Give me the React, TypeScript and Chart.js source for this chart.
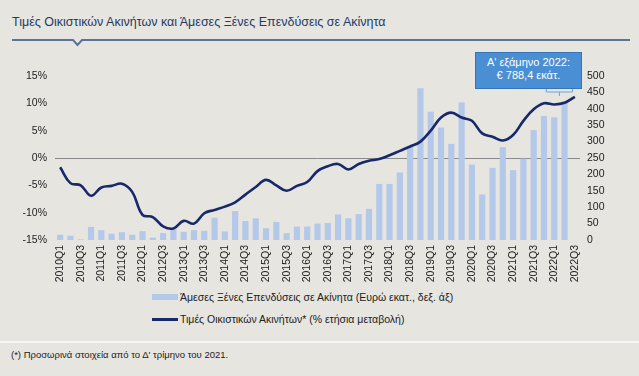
import React, { useEffect, useRef } from "react";
import { Chart, registerables } from "chart.js";

Chart.register(...registerables);

const categories = [
  "2010Q1", "2010Q2", "2010Q3", "2010Q4",
  "2011Q1", "2011Q2", "2011Q3", "2011Q4",
  "2012Q1", "2012Q2", "2012Q3", "2012Q4",
  "2013Q1", "2013Q2", "2013Q3", "2013Q4",
  "2014Q1", "2014Q2", "2014Q3", "2014Q4",
  "2015Q1", "2015Q2", "2015Q3", "2015Q4",
  "2016Q1", "2016Q2", "2016Q3", "2016Q4",
  "2017Q1", "2017Q2", "2017Q3", "2017Q4",
  "2018Q1", "2018Q2", "2018Q3", "2018Q4",
  "2019Q1", "2019Q2", "2019Q3", "2019Q4",
  "2020Q1", "2020Q2", "2020Q3", "2020Q4",
  "2021Q1", "2021Q2", "2021Q3", "2021Q4",
  "2022Q1", "2022Q2", "2022Q3",
];

// Άμεσες Ξένες Επενδύσεις σε Ακίνητα (Ευρώ εκατ.) – right axis
const fdiRealEstate: (number | null)[] = [
  16, 13, 2, 40, 30, 19, 24, 16, 27, 7,
  21, 35, 25, 30, 28, 68, 26, 88, 58, 66,
  36, 55, 21, 41, 41, 50, 52, 78, 66, 79,
  95, 171, 171, 206, 285, 463, 391, 343, 293, 419,
  230, 139, 220, 283, 213, 248, 335, 378, 374, 422,
  null,
];

// Τιμές Οικιστικών Ακινήτων (% ετήσια μεταβολή) – left axis
const housePriceChange = [
  -1.7, -4.6, -5.0, -6.9, -5.4, -5.1, -4.7, -6.2, -10.4, -10.8,
  -12.5, -12.9, -11.5, -12.0, -10.1, -9.5, -8.9, -8.1, -6.7, -5.3,
  -4.0, -5.0, -6.0, -5.1, -4.4, -2.4, -1.5, -1.1, -2.1, -1.1,
  -0.5, -0.2, 0.5, 1.3, 2.1, 3.0, 5.0, 7.4, 8.3, 7.4,
  6.8, 4.5, 3.9, 3.2, 4.2, 6.8, 8.9, 10.0, 9.8, 10.1,
  11.2,
];

const leftAxisRange = [-15, 15];
const rightAxisRange = [0, 500];
const bracketCategories = ["2022Q1", "2022Q2"];

const titleText = "Τιμές Οικιστικών Ακινήτων και Άμεσες Ξένες Επενδύσεις σε Ακίνητα";
const barLabel = "Άμεσες Ξένες Επενδύσεις σε Ακίνητα (Ευρώ εκατ., δεξ. άξ)";
const lineLabel = "Τιμές Οικιστικών Ακινήτων* (% ετήσια μεταβολή)";
const calloutLines = ["Α' εξάμηνο 2022:", "€ 788,4 εκάτ."];
const footnote = "(*) Προσωρινά στοιχεία από το Δ' τρίμηνο του 2021.";

const FONT = "'Liberation Sans', Arial, sans-serif";
const BG = "#e6e5e0";
const NAVY = "#17296b";
const BAR = "#b4c8ea";

const bracketPlugin = {
  id: "bracket",
  afterDatasetsDraw(chart: any) {
    const x = chart.scales.x;
    const i1 = categories.indexOf(bracketCategories[0]);
    const i2 = categories.indexOf(bracketCategories[1]);
    const x1 = x.getPixelForValue(i1) - 8;
    const x2 = x.getPixelForValue(i2) + 8;
    const xm = (x1 + x2) / 2;
    const ctx = chart.ctx;
    ctx.save();
    ctx.strokeStyle = "#6ea5dc";
    ctx.lineWidth = 1;
    ctx.beginPath();
    ctx.moveTo(x1, 36);
    ctx.lineTo(x1, 42);
    ctx.lineTo(x2, 42);
    ctx.lineTo(x2, 36);
    ctx.moveTo(xm, 42);
    ctx.lineTo(xm, 46);
    ctx.stroke();
    ctx.restore();
  },
};

export default function App() {
  const ref = useRef<HTMLCanvasElement | null>(null);

  useEffect(() => {
    if (!ref.current) return;
    const chart = new Chart(ref.current, {
      type: "bar",
      data: {
        labels: categories,
        datasets: [
          {
            type: "line",
            label: lineLabel,
            data: housePriceChange,
            yAxisID: "y",
            borderColor: NAVY,
            backgroundColor: NAVY,
            borderWidth: 2.6,
            pointRadius: 0,
            tension: 0.4,
            order: 0,
          } as any,
          {
            type: "bar",
            label: barLabel,
            data: fdiRealEstate,
            yAxisID: "y1",
            backgroundColor: BAR,
            barPercentage: 0.6,
            categoryPercentage: 1,
            order: 1,
          },
        ],
      },
      options: {
        animation: false,
        responsive: false,
        maintainAspectRatio: false,
        layout: { padding: { top: 26, bottom: 0, left: 0, right: 0 } },
        plugins: {
          legend: { display: false },
          tooltip: { enabled: false },
        },
        scales: {
          x: {
            offset: true,
            grid: { display: false, drawTicks: false },
            border: { display: false },
            ticks: {
              autoSkip: false,
              maxRotation: 90,
              minRotation: 90,
              padding: 5,
              color: "#222",
              font: { family: FONT, size: 10.5 },
              callback: (_v: any, i: number) => (i % 2 === 0 ? categories[i] : ""),
            },
            afterFit: (s: any) => {
              s.height = 50;
            },
          },
          y: {
            position: "left",
            min: leftAxisRange[0],
            max: leftAxisRange[1],
            grid: {
              drawTicks: false,
              color: (c: any) => (c.tick && c.tick.value === 0 ? "#8a8a8a" : "rgba(0,0,0,0)"),
              lineWidth: 1,
            },
            border: { display: false },
            ticks: {
              stepSize: 5,
              padding: 8,
              color: "#222",
              font: { family: FONT, size: 10.5 },
              callback: (v: any) => `${v}%`,
            },
            afterFit: (s: any) => {
              s.width = 55;
            },
          },
          y1: {
            position: "right",
            min: rightAxisRange[0],
            max: rightAxisRange[1],
            grid: { display: false, drawTicks: false },
            border: { display: false },
            ticks: {
              stepSize: 50,
              padding: 7,
              color: "#222",
              font: { family: FONT, size: 10.5 },
            },
            afterFit: (s: any) => {
              s.width = 59;
            },
          },
        },
      },
      plugins: [bracketPlugin],
    });
    return () => chart.destroy();
  }, []);

  return (
    <div
      style={{
        position: "fixed",
        left: 0,
        top: 0,
        width: 639,
        height: 376,
        background: BG,
        fontFamily: FONT,
        overflow: "hidden",
      }}
    >
      <div
        style={{
          position: "absolute",
          left: 12,
          top: 14,
          fontSize: 12.5,
          color: "#1f3a66",
          whiteSpace: "nowrap",
          lineHeight: "16px",
        }}
      >
        {titleText}
      </div>
      <svg
        width={639}
        height={12}
        style={{ position: "absolute", left: 0, top: 36 }}
      >
        <polyline
          points="12,4 73,4 77.5,9 82,4 630,4"
          fill="none"
          stroke="#5a7397"
          strokeWidth={2}
        />
      </svg>
      <canvas
        ref={ref}
        width={639}
        height={240}
        style={{ position: "absolute", left: 0, top: 50, width: 639, height: 240 }}
      />
      <div
        style={{
          position: "absolute",
          left: 475,
          top: 52,
          width: 105,
          height: 32,
          background: "#4a8fd4",
          border: "1px solid #3574b8",
          color: "#fff",
          fontSize: 11,
          lineHeight: "13px",
          textAlign: "center",
          paddingTop: 3,
          boxSizing: "content-box",
        }}
      >
        <div>{calloutLines[0]}</div>
        <div>{calloutLines[1]}</div>
      </div>
      <div style={{ position: "absolute", left: 152, top: 294, width: 26, height: 6, background: BAR }} />
      <div
        style={{
          position: "absolute",
          left: 180,
          top: 290,
          fontSize: 10.5,
          color: "#222",
          whiteSpace: "nowrap",
          lineHeight: "14px",
        }}
      >
        {barLabel}
      </div>
      <div style={{ position: "absolute", left: 152, top: 318, width: 26, height: 2.5, background: NAVY }} />
      <div
        style={{
          position: "absolute",
          left: 180,
          top: 312,
          fontSize: 10.5,
          color: "#222",
          whiteSpace: "nowrap",
          lineHeight: "14px",
        }}
      >
        {lineLabel}
      </div>
      <div style={{ position: "absolute", left: 0, top: 341, width: 639, height: 2, background: "#f6f6f4" }} />
      <div
        style={{
          position: "absolute",
          left: 11,
          top: 349,
          fontSize: 9.5,
          color: "#222",
          whiteSpace: "nowrap",
          lineHeight: "12px",
        }}
      >
        {footnote}
      </div>
    </div>
  );
}
